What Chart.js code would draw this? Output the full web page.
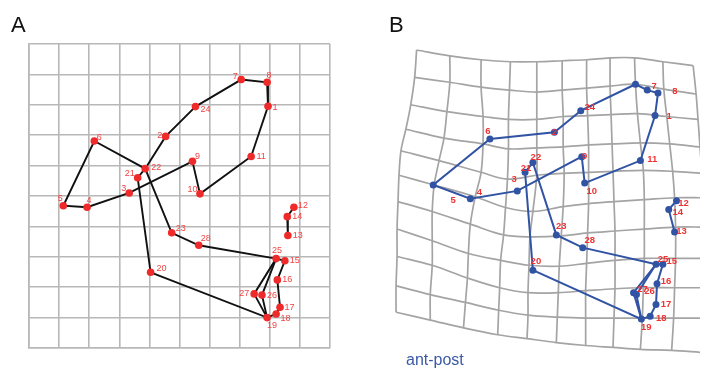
<!DOCTYPE html>
<html>
<head>
<meta charset="utf-8">
<script src="https://cdn.jsdelivr.net/npm/chart.js@4.4.0/dist/chart.umd.min.js"></script>
<style>
  body { margin: 0; width: 704px; height: 372px; overflow: hidden; background: #fff; font-family: "Liberation Sans", Arial, sans-serif; }
  canvas { position: absolute; top: 0; }
  #chartA { left: 0; }
  #chartB { left: 352px; }
  .panel { position: absolute; font-size: 22px; line-height: 22px; color: #111; }
  #note { position: absolute; left: 406px; top: 352px; font-size: 16px; line-height: 16px; color: #3a5aa6; }
</style>
</head>
<body>
<canvas id="chartA" width="352" height="372"></canvas>
<canvas id="chartB" width="352" height="372"></canvas>
<div class="panel" style="left:11px;top:14px">A</div>
<div class="panel" style="left:389px;top:14px">B</div>
<div id="note">ant-post</div>
<script>
// landmark ids
const ids = ["1","2","3","4","5","6","7","8","9","10","11","12","13","14",
             "15","16","17","18","19","20","21","22","23","24","25","26","27","28"];

// panel A: landmarks in grid units (10 x 10 grid, y counted downwards)
const aX = [7.94, 4.54, 3.33, 1.93, 1.14, 2.17, 7.05, 7.91, 5.43, 5.68, 7.38, 8.80, 8.60, 8.58,
            8.50, 8.25, 8.34, 8.21, 7.91, 4.04, 3.61, 3.86, 4.74, 5.53, 8.21, 7.74, 7.48, 5.64];
const aY = [2.05, 3.04, 4.90, 5.37, 5.32, 3.19, 1.17, 1.26, 3.86, 4.93, 3.70, 5.37, 6.30, 5.68,
            7.13, 7.76, 8.66, 8.88, 9.00, 7.51, 4.40, 4.10, 6.21, 2.06, 7.06, 8.26, 8.22, 6.62];

// panel B: landmarks in figure units (one extra unlabelled point "7a")
const bIds = ids.concat(["7a"]);
const bX = [658, 555, 517, 469, 431, 489, 650, 661, 583, 586, 643, 680, 678, 672,
            666, 660, 659, 653, 644, 533, 525, 533, 557, 582, 659, 639, 636, 584, 638];
const bY = [114, 131, 191, 199, 185, 138, 88, 91, 156, 183, 160, 201, 233, 210,
            266, 286, 307, 319, 322, 272, 172, 162, 236, 109, 266, 297, 295, 249, 82];

// wireframe links
const pathsA = [
  ["24","7","8","1","11","10","9","3","4","5","6","22","2","24"],
  ["20","21","22","23","28","25","15","16","17","18","19","20"],
  ["25","27","19"],
  ["25","26","19"],
  ["12","14","13"]
];
const pathsB = [
  ["24","7a","7","8","1","11","10","9","3","4","5","6","2","24"],
  ["20","21","22","23","28","25","15","16","17","18","19","20"],
  ["25","27","19"],
  ["25","26","19"],
  ["12","14","13"]
];

// panel B: deformed grid nodes, 11 rows x 11 columns
const gridX = [
  [414, 448, 480, 510, 537, 563, 588, 612, 637, 666, 697],
  [412, 448, 480, 509, 537, 563, 588, 612, 638, 667, 700],
  [408, 445, 482, 508, 537, 564, 589, 613, 640, 670, 702],
  [403, 442, 482, 508, 537, 564, 590, 614, 643, 673, 704],
  [398, 437, 480, 507, 537, 565, 590, 615, 646, 676, 706],
  [396, 432, 474, 505, 533, 564, 590, 616, 647, 678, 708],
  [395, 430, 469, 503, 530, 562, 589, 617, 647, 679, 709],
  [394, 430, 467, 500, 529, 560, 588, 617, 647, 679, 709],
  [394, 430, 466, 499, 528, 559, 587, 617, 646, 678, 708],
  [393, 428, 464, 498, 528, 558, 587, 616, 645, 677, 707],
  [393, 428, 462, 497, 527, 557, 587, 615, 643, 675, 705]
];
const gridY = [
  [47, 53, 57, 59, 59, 58, 57, 55, 55, 59, 63],
  [75, 80, 85, 88, 90, 88, 86, 84, 82, 87, 92],
  [103, 110, 115, 118, 118, 115, 114, 113, 112, 115, 118],
  [128, 137, 143, 148, 147, 146, 144, 143, 142, 143, 146],
  [150, 160, 172, 179, 175, 173, 172, 171, 170, 171, 173],
  [175, 185, 197, 208, 212, 207, 204, 202, 200, 198, 198],
  [202, 212, 225, 236, 238, 237, 234, 232, 230, 228, 228],
  [230, 242, 255, 262, 267, 268, 265, 262, 260, 260, 260],
  [258, 267, 280, 290, 295, 295, 293, 291, 290, 290, 290],
  [288, 297, 305, 313, 318, 320, 321, 321, 321, 321, 321],
  [315, 323, 331, 338, 342, 346, 349, 351, 353, 354, 356]
];

// label placement (pixel offsets from the point), layout only
const labelOffsetA = [[7,1],[-6,-1],[-5.5,-4],[2,-6.5],[-3,-7],[5,-3],[-6,-3],[2,-6.5],[5,-5],[-7.5,-4],
  [10,0],[9,-2],[10,0],[10,-0.5],[10,0],[10,0],[9.5,0],[9.5,5],[5,7.5],[11,-4],
  [-8,-4],[11,-1.5],[9,-4],[10,3],[1,-8.5],[10,0],[-10,-0.5],[7,-6.5]];
const labelOffsetB = [[14,1],[0,0],[-3,-12],[9,-6],[20,15],[-2,-8],[7,-4],[17,-2],[3,0],[7,8],
  [12,-1],[7,3],[7,-1],[9,3],[9,-3],[9,-2],[10,0],[11,2],[5,8],[3,-9],
  [1,-4],[3,-5],[5,-9],[9,-3],[7,-5],[13,-3],[9,-3],[7,-7],[0,0]];

function pathData(path, idList, xs, ys) {
  return path.map(id => {
    const i = idList.indexOf(id);
    return {x: xs[i], y: ys[i]};
  });
}

function labelPlugin(idList, xs, ys, offsets, font, color) {
  return {
    id: "landmarkLabels",
    afterDatasetsDraw(chart) {
      const ctx = chart.ctx;
      const sx = chart.scales.x, sy = chart.scales.y;
      ctx.save();
      ctx.font = font;
      ctx.fillStyle = color;
      ctx.textAlign = "center";
      ctx.textBaseline = "middle";
      idList.forEach((id, i) => {
        if (id.indexOf("a") >= 0) return;
        const px = sx.getPixelForValue(xs[i]) + offsets[i][0];
        const py = sy.getPixelForValue(ys[i]) + offsets[i][1];
        ctx.fillText(id, px, py);
      });
      ctx.restore();
    }
  };
}

// ---- panel A ----
const dsA = [{
  data: ids.map((id, i) => ({x: aX[i], y: aY[i]})),
  pointRadius: 3.8,
  pointBackgroundColor: "#ee2a2a",
  pointBorderWidth: 0,
  showLine: false,
  clip: false
}];
pathsA.forEach(p => dsA.push({
  data: pathData(p, ids, aX, aY),
  showLine: true,
  borderColor: "#111",
  borderWidth: 1.9,
  pointRadius: 0,
  tension: 0,
  clip: false
}));

const gridStyle = {
  color: "#b8b8b8",
  lineWidth: 1.6,
  drawTicks: false
};

new Chart(document.getElementById("chartA"), {
  type: "scatter",
  data: {datasets: dsA},
  options: {
    responsive: false,
    animation: false,
    devicePixelRatio: 1,
    layout: {padding: {left: 29, top: 44, right: 22, bottom: 24}},
    plugins: {legend: {display: false}, tooltip: {enabled: false}},
    scales: {
      x: {type: "linear", min: 0, max: 10, ticks: {stepSize: 1, display: false},
          grid: gridStyle, border: {display: true, color: "#b8b8b8", width: 1.6}},
      y: {type: "linear", min: 0, max: 10, reverse: true, ticks: {stepSize: 1, display: false},
          grid: gridStyle, border: {display: true, color: "#b8b8b8", width: 1.6}}
    }
  },
  plugins: [labelPlugin(ids, aX, aY, labelOffsetA, "9px 'Liberation Sans', Arial, sans-serif", "#f04444")]
});

// ---- panel B ----
const blue = "#3153a4";
const dsB = [{
  data: bIds.map((id, i) => ({x: bX[i], y: bY[i]})),
  pointRadius: 3.5,
  pointBackgroundColor: blue,
  pointBorderWidth: 0,
  showLine: false
}];
pathsB.forEach(p => dsB.push({
  data: pathData(p, bIds, bX, bY),
  showLine: true,
  borderColor: blue,
  borderWidth: 2,
  pointRadius: 0,
  tension: 0
}));
// deformed grid: rows then columns
gridX.forEach((row, r) => dsB.push({
  data: row.map((x, c) => ({x: x, y: gridY[r][c]})),
  showLine: true, borderColor: "#a4a4a4", borderWidth: 1.7, pointRadius: 0, tension: 0.35
}));
gridX[0].forEach((_, c) => dsB.push({
  data: gridX.map((row, r) => ({x: row[c], y: gridY[r][c]})),
  showLine: true, borderColor: "#a4a4a4", borderWidth: 1.7, pointRadius: 0, tension: 0.35
}));

new Chart(document.getElementById("chartB"), {
  type: "scatter",
  data: {datasets: dsB},
  options: {
    responsive: false,
    animation: false,
    devicePixelRatio: 1,
    layout: {padding: 0},
    plugins: {legend: {display: false}, tooltip: {enabled: false}},
    scales: {
      x: {type: "linear", min: 352, max: 704, display: false},
      y: {type: "linear", min: 0, max: 372, reverse: true, display: false}
    }
  },
  plugins: [labelPlugin(bIds, bX, bY, labelOffsetB, "bold 9.5px 'Liberation Sans', Arial, sans-serif", "#ee3333")]
});
</script>
</body>
</html>
